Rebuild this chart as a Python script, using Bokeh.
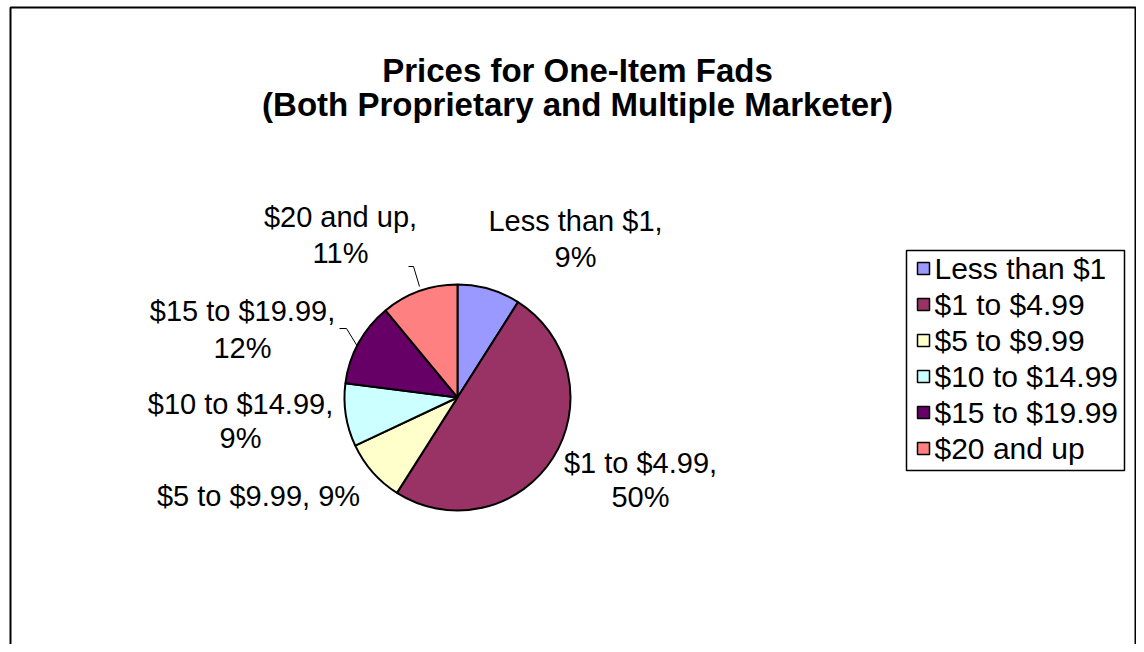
import numpy as np
from bokeh.plotting import figure
from bokeh.models import Range1d, ColumnDataSource
from bokeh.core.properties import value
from bokeh.embed import file_html
from bokeh.resources import INLINE

# ---- data ----
categories = ["Less than $1", "$1 to $4.99", "$5 to $9.99", "$10 to $14.99", "$15 to $19.99", "$20 and up"]
percents = [9, 50, 9, 9, 12, 11]
colors = ["#9999FF", "#993366", "#FFFFCC", "#CCFFFF", "#660066", "#FF8080"]
title_lines = ["Prices for One-Item Fads", "(Both Proprietary and Multiple Marketer)"]

W, H = 1136, 644
FONT = value("Liberation Sans")
OX, OY = 0, 0

def px(X):
    return X - OX

def py(Y):
    return H - (Y - OY)

p = figure(width=W, height=H, x_range=Range1d(0, W), y_range=Range1d(0, H),
           min_border=0, output_backend="svg", toolbar_location=None)
p.axis.visible = False
p.grid.visible = False
p.outline_line_color = None
p.background_fill_color = "white"
p.border_fill_color = "white"

# outer chart border (bottom edge lies outside the window)
p.line([px(10), px(10), px(1135), px(1135)], [py(700), py(7), py(7), py(700)],
       line_color="black", line_width=2)

# title
p.text(x=[px(577), px(577)], y=[py(70), py(104)], text=title_lines,
       text_font=FONT, text_font_style="bold", text_font_size="33px",
       text_align="center", text_baseline="middle", text_color="black")

# pie
vals = np.array(percents, dtype=float)
frac = vals / vals.sum()
cum = np.concatenate([[0], np.cumsum(frac)])
start = np.pi / 2 - cum[:-1] * 2 * np.pi
end = np.pi / 2 - cum[1:] * 2 * np.pi
cx, cy, R = px(457), py(397), 113
src = ColumnDataSource(dict(start=start, end=end, color=colors, cat=categories, pct=percents))
p.wedge(x=cx, y=cy, radius=R, start_angle="start", end_angle="end", direction="clock",
        fill_color="color", line_color="black", line_width=2, source=src)

# data labels (layout offsets per category)
label_pos = [(575, 220, 256), (640, 462, 496), (258, 495, None), (240, 403, 437),
             (242, 310, 347), (340, 216, 252)]
lx, ly, lt = [], [], []
for i, (cat, pc) in enumerate(zip(categories, percents)):
    X, Y1, Y2 = label_pos[i]
    if Y2 is None:
        lx.append(px(X)); ly.append(py(Y1)); lt.append(f"{cat}, {pc}%")
    else:
        lx += [px(X), px(X)]; ly += [py(Y1), py(Y2)]; lt += [f"{cat},", f"{pc}%"]
p.text(x=lx, y=ly, text=lt, text_font=FONT, text_font_size="29px",
       text_align="center", text_baseline="middle", text_color="black")

# leader lines
p.line([px(408), px(413), px(419)], [py(266), py(266), py(286)], line_color="black", line_width=1)
p.line([px(339), px(346), px(357)], [py(328), py(328), py(346)], line_color="black", line_width=1)

# legend box
lb_l, lb_r, lb_t, lb_b = 906, 1124, 250, 470
p.rect(x=[px((lb_l + lb_r) / 2)], y=[py((lb_t + lb_b) / 2)], width=lb_r - lb_l, height=lb_b - lb_t,
       fill_color="white", line_color="black", line_width=1.5)
n = len(categories)
ey = [py(268 + 36 * i) for i in range(n)]
p.rect(x=[px(923)] * n, y=ey, width=12, height=12, fill_color=colors,
       line_color="black", line_width=1.5)
p.text(x=[px(934)] * n, y=ey, text=categories, text_font=FONT, text_font_size="30px",
       text_align="left", text_baseline="middle", text_color="black")

open("out.html", "w").write(file_html(p, INLINE))
